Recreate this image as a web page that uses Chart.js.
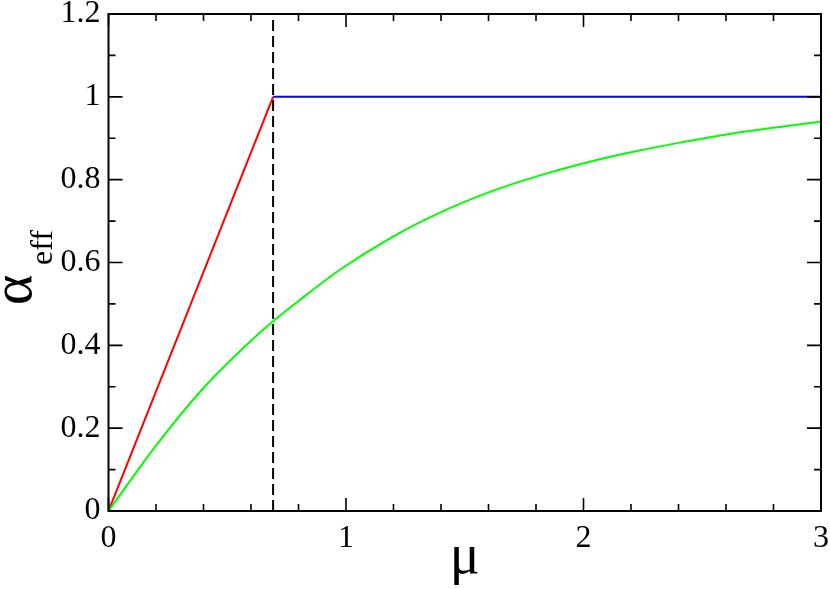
<!DOCTYPE html>
<html>
<head>
<meta charset="utf-8">
<script src="https://cdn.jsdelivr.net/npm/chart.js@4/dist/chart.umd.min.js"></script>
<style>
  html, body { margin: 0; padding: 0; background: #fff; }
  #wrap { width: 830px; height: 589px; }
</style>
</head>
<body>
<div id="wrap"><canvas id="chart" width="830" height="589"></canvas></div>
<script>
// --- data ---
const greenMu    = [0, 0.2, 0.4, 0.6, 0.693, 0.8, 0.976, 1.187, 1.398, 1.609, 1.82, 2.031, 2.2, 2.411, 2.622, 2.833, 3.0];
const greenAlpha = [0, 0.158, 0.297, 0.411, 0.458, 0.507, 0.583, 0.659, 0.721, 0.771, 0.811, 0.844, 0.866, 0.890, 0.911, 0.928, 0.940];

const redMu     = [0, 0.693];
const redAlpha  = [0, 1];
const blueMu    = [0.693, 3];
const blueAlpha = [1, 1];
const dashMu    = [0.693, 0.693];
const dashAlpha = [0, 1.2];

const xTicks = [0, 1, 2, 3];
const yTicks = [0, 0.2, 0.4, 0.6, 0.8, 1, 1.2];

const toPoints = (xs, ys) => xs.map((x, i) => ({ x: x, y: ys[i] }));

const SERIF = '"Liberation Serif", "Times New Roman", serif';

// frame + inward ticks on all four sides, plus axis titles
const framePlugin = {
    id: 'frame',
    afterDatasetsDraw(chart) {
        const { ctx, chartArea: a, scales: { x, y } } = chart;
        ctx.save();
        ctx.strokeStyle = '#000';
        ctx.lineWidth = 2;
        ctx.strokeRect(a.left, a.top, a.right - a.left, a.bottom - a.top);

        ctx.lineWidth = 1.6;
        ctx.beginPath();
        // x: major every 1, minor every 0.2
        for (let i = 0; i <= 15; i++) {
            const px = x.getPixelForValue(i * 0.2);
            const len = (i % 5 === 0) ? 13 : 7;
            ctx.moveTo(px, a.bottom); ctx.lineTo(px, a.bottom - len);
            ctx.moveTo(px, a.top);    ctx.lineTo(px, a.top + len);
        }
        // y: major every 0.2, minor every 0.1
        for (let i = 0; i <= 12; i++) {
            const py = y.getPixelForValue(i * 0.1);
            const len = (i % 2 === 0) ? 14 : 7;
            ctx.moveTo(a.left, py);  ctx.lineTo(a.left + len, py);
            ctx.moveTo(a.right, py); ctx.lineTo(a.right - len, py);
        }
        ctx.stroke();

        // axis titles
        ctx.fillStyle = '#000';
        ctx.textBaseline = 'alphabetic';
        ctx.textAlign = 'center';
        ctx.font = '56px ' + SERIF;
        ctx.fillText('μ', (a.left + a.right) / 2, 573);

        ctx.rotate(-Math.PI / 2);
        ctx.textAlign = 'left';
        ctx.font = '58px ' + SERIF;
        ctx.fillText('α', -305, 31);
        ctx.font = '32px ' + SERIF;
        ctx.fillText('eff', -265, 52);
        ctx.restore();
    }
};

function draw() {
    new Chart(document.getElementById('chart'), {
        type: 'line',
        data: {
            datasets: [
                {
                    data: toPoints(greenMu, greenAlpha),
                    borderColor: '#00ff00',
                    borderWidth: 2,
                    pointRadius: 0,
                    cubicInterpolationMode: 'monotone',
                    fill: false
                },
                {
                    data: toPoints(redMu, redAlpha),
                    borderColor: '#ff0000',
                    borderWidth: 2,
                    pointRadius: 0,
                    fill: false
                },
                {
                    data: toPoints(blueMu, blueAlpha),
                    borderColor: '#0000ff',
                    borderWidth: 2,
                    pointRadius: 0,
                    fill: false
                },
                {
                    data: toPoints(dashMu, dashAlpha),
                    borderColor: '#000000',
                    borderWidth: 2,
                    borderDash: [11, 5],
                    pointRadius: 0,
                    fill: false
                }
            ]
        },
        options: {
            responsive: false,
            animation: false,
            events: [],
            layout: { padding: { left: 0, right: 9, top: 14, bottom: 0 } },
            plugins: {
                legend: { display: false },
                tooltip: { enabled: false }
            },
            scales: {
                x: {
                    type: 'linear',
                    min: 0,
                    max: 3,
                    afterBuildTicks: s => { s.ticks = xTicks.map(v => ({ value: v })); },
                    afterFit: s => { s.height = 78; s.paddingLeft = 0; s.paddingRight = 0; },
                    grid: { display: false, drawTicks: false },
                    border: { display: false },
                    ticks: {
                        color: '#000',
                        padding: 8,
                        maxRotation: 0,
                        font: { family: SERIF, size: 32 },
                        callback: v => String(v)
                    }
                },
                y: {
                    type: 'linear',
                    min: 0,
                    max: 1.2,
                    afterBuildTicks: s => { s.ticks = yTicks.map(v => ({ value: v })); },
                    afterFit: s => { s.width = 108.5; s.paddingTop = 0; s.paddingBottom = 0; },
                    grid: { display: false, drawTicks: false },
                    border: { display: false },
                    ticks: {
                        color: '#000',
                        padding: 8,
                        font: { family: SERIF, size: 32 },
                        callback: v => String(+Number(v).toFixed(1))
                    }
                }
            }
        },
        plugins: [framePlugin]
    });
}

if (document.fonts && document.fonts.load) {
    document.fonts.load('32px "Liberation Serif"').then(draw, draw);
} else {
    draw();
}
</script>
</body>
</html>
